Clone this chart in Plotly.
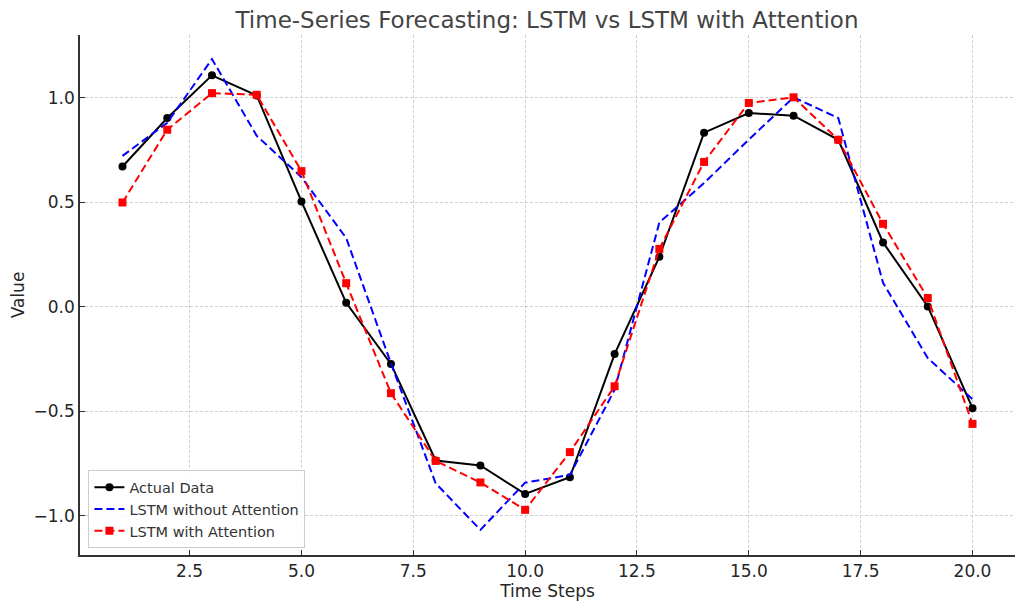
import plotly.graph_objects as go

time_steps = list(range(1, 21))
actual = [0.671, 0.903, 1.107, 1.011, 0.504, 0.019, -0.273, -0.735, -0.759, -0.895,
          -0.815, -0.226, 0.239, 0.833, 0.927, 0.914, 0.799, 0.308, 0.002, -0.485]
lstm_no_attn = [0.722, 0.88, 1.185, 0.818, 0.62, 0.329, -0.27, -0.844, -1.067, -0.841,
                -0.804, -0.397, 0.403, 0.592, 0.80, 1.002, 0.903, 0.115, -0.245, -0.442]
lstm_attn = [0.499, 0.847, 1.022, 1.014, 0.649, 0.113, -0.413, -0.737, -0.840, -0.971,
             -0.695, -0.380, 0.277, 0.693, 0.975, 1.002, 0.799, 0.397, 0.042, -0.560]

x_ticks = [2.5, 5.0, 7.5, 10.0, 12.5, 15.0, 17.5, 20.0]
y_ticks = [-1.0, -0.5, 0.0, 0.5, 1.0]

title_text = "Time-Series Forecasting: LSTM vs LSTM with Attention"
font = "DejaVu Sans"

fig = go.Figure()
fig.add_trace(go.Scatter(
    x=time_steps, y=actual, name="Actual Data", mode="lines+markers",
    line=dict(color="black", width=2),
    marker=dict(symbol="circle", size=8, color="black"),
))
fig.add_trace(go.Scatter(
    x=time_steps, y=lstm_no_attn, name="LSTM without Attention", mode="lines",
    line=dict(color="#0000ff", width=2, dash="8px,4px"),
))
fig.add_trace(go.Scatter(
    x=time_steps, y=lstm_attn, name="LSTM with Attention", mode="lines+markers",
    line=dict(color="#ff0000", width=2, dash="8px,4px"),
    marker=dict(symbol="square", size=8, color="#ff0000"),
))

axis_common = dict(
    showgrid=True, gridcolor="#d0d0d0", griddash="3px,2px", gridwidth=1,
    zeroline=False, showline=True, linecolor="#333333", linewidth=1.5,
    ticks="inside", ticklen=5, tickcolor="#333333", tickwidth=1,
    tickfont=dict(family=font, size=17, color="#262626"),
    title_font=dict(family=font, size=17, color="#262626"),
    mirror=False, automargin=False,
)

fig.update_layout(
    width=1024, height=611,
    margin=dict(l=72, r=17, t=27, b=64),
    paper_bgcolor="white", plot_bgcolor="white",
    title=dict(text=title_text, x=0.5264, xanchor="center", y=0.9804, yanchor="middle",
               font=dict(family=font, size=23, color="#444444")),
    xaxis=dict(axis_common, range=[0.05, 20.95], tickvals=x_ticks, tickformat=".1f",
               title=dict(text="Time Steps", standoff=4)),
    yaxis=dict(axis_common, range=[-1.187, 1.30], tickvals=y_ticks, tickformat=".1f",
               title=dict(text="Value", standoff=10)),
    legend=dict(x=0.009, y=0.013, xanchor="left", yanchor="bottom",
                bgcolor="rgba(255,255,255,0.85)", bordercolor="#cccccc", borderwidth=1,
                font=dict(family=font, size=14.5, color="#333333"),
                tracegroupgap=0, itemwidth=30),
    showlegend=True,
)

fig.write_html("out.html")
